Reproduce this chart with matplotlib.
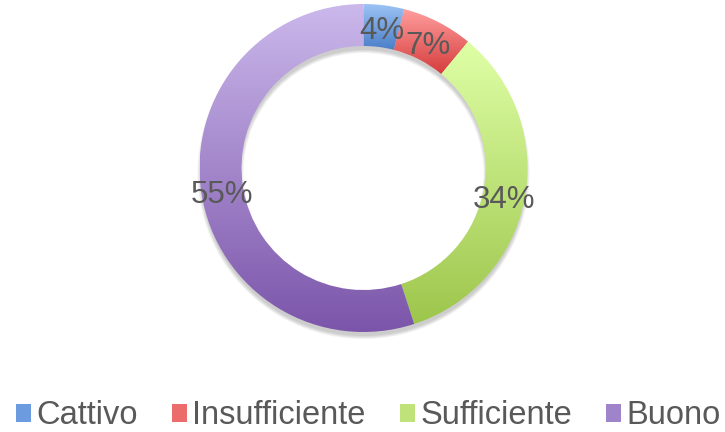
import numpy as np
import matplotlib
matplotlib.use('Agg')
import matplotlib.pyplot as plt
from matplotlib.patches import Wedge, Patch
from matplotlib.colors import LinearSegmentedColormap

plt.rcParams['font.family'] = ['Liberation Sans', 'DejaVu Sans']

labels = ['Cattivo', 'Insufficiente', 'Sufficiente', 'Buono']
values = [4, 7, 34, 55]
# gradient colours (top, bottom) for each slice
top_colors = ['#9DC3F5', '#FF9E9E', '#DFFFA6', '#CBB8EB']
bottom_colors = ['#4A7EC8', '#D63C3C', '#9DC64C', '#7B55AA']
mid_colors = ['#6C9BE0', '#EC6B6B', '#BFE27A', '#9F84CC']

W, H = 725, 432
cx, cy = 363.5, H - 168
R = 164
ring = 42

fig = plt.figure(figsize=(W / 100, H / 100), dpi=100)
ax = fig.add_axes([0, 0, 1, 1])

# soft shadow under the ring
for k in range(4):
    sh = Wedge((cx, cy - 5), R + 2 - k, 0, 360, width=ring + 4 - 2 * k,
               facecolor='#000000', edgecolor='none', alpha=0.05, zorder=0)
    ax.add_patch(sh)

wedges, texts, autotexts = ax.pie(
    values, startangle=90, counterclock=False, radius=R, center=(cx, cy),
    wedgeprops=dict(width=ring, edgecolor='none'),
    autopct='%1.0f%%', pctdistance=(R - ring / 2) / R,
    textprops=dict(color='#595959', fontsize=22.5), frame=True)

for i, w in enumerate(wedges):
    ext = w.get_path().get_extents()
    cmap = LinearSegmentedColormap.from_list('g%d' % i, [top_colors[i], bottom_colors[i]])
    grad = np.linspace(0, 1, 256).reshape(-1, 1)
    im = ax.imshow(grad, cmap=cmap, extent=(ext.x0, ext.x1, ext.y0, ext.y1),
                   origin='upper', aspect='auto', zorder=1, interpolation='bilinear')
    im.set_clip_path(w)
    w.set_facecolor('none')

for t in autotexts:
    x, y = t.get_position()
    t.set_position((x, y - 5))
    t.set_zorder(5)

ax.set_xlim(0, W)
ax.set_ylim(0, H)
ax.set_aspect('auto')
ax.axis('off')

handles = [Patch(facecolor=c, edgecolor='none') for c in mid_colors]
fig.legend(handles, labels, ncol=4, loc='center', bbox_to_anchor=(368.5 / W, 1 - 416 / H),
           frameon=False, fontsize=23.5, handlelength=0.45, handleheight=0.45,
           handletextpad=0.16, columnspacing=1.06, labelcolor='#595959')

fig.savefig('out.png', dpi=100)
